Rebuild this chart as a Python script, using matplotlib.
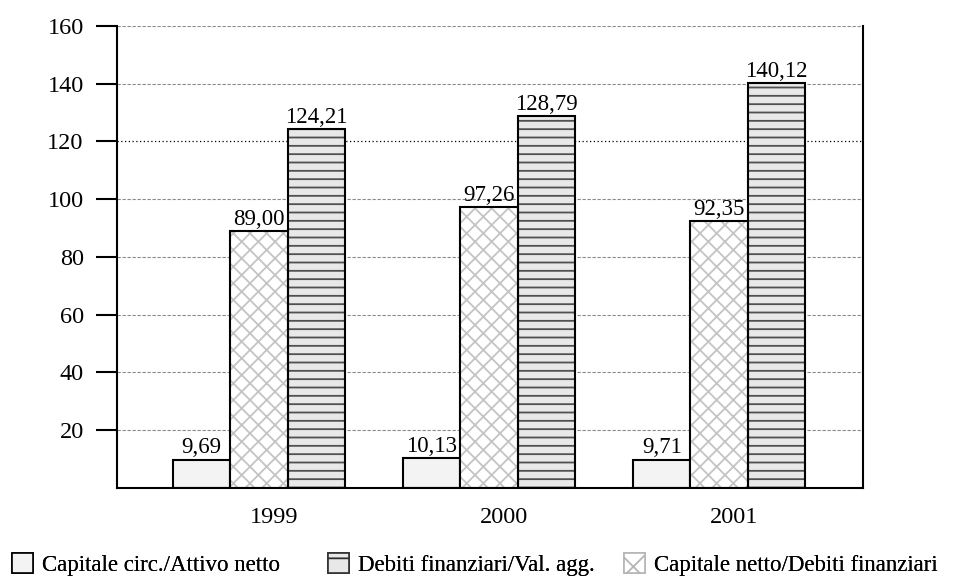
import matplotlib
matplotlib.use("Agg")
import matplotlib.pyplot as plt
from matplotlib.patches import Patch
import numpy as np

plt.rcParams['font.family'] = 'Liberation Serif'
plt.rcParams['hatch.linewidth'] = 1.3

anni = ['1999', '2000', '2001']
capitale_circ = [9.69, 10.13, 9.71]
capitale_netto = [89.00, 97.26, 92.35]
debiti_fin = [124.21, 128.79, 140.12]

fig = plt.figure(figsize=(9.56, 5.78), dpi=100)
ax = fig.add_axes([0.1224, 0.1562, 0.7803, 0.7988])

x = np.arange(len(anni))
w = 0.25

# griglia: tratteggiata, tranne la linea a 120 punteggiata
for yv in range(20, 161, 20):
    if yv == 120:
        ax.axhline(yv, color='black', lw=0.9, ls=(0, (1, 2)), zorder=0)
    else:
        ax.axhline(yv, color='#8a8a8a', lw=0.8, ls=(0, (3, 1.5)), zorder=0)

# serie 1: riempimento chiaro
ax.bar(x - 2 * w, capitale_circ, w, align='edge', color='#f3f3f3',
       edgecolor='black', linewidth=1.5, zorder=2)

# serie 2: retino incrociato grigio chiaro
ax.bar(x - w, capitale_netto, w, align='edge', color='white',
       edgecolor='#c4c4c4', hatch='xx', linewidth=0, zorder=2)
ax.bar(x - w, capitale_netto, w, align='edge', fill=False,
       edgecolor='black', linewidth=1.5, zorder=3)

# serie 3: righe orizzontali
ax.bar(x, debiti_fin, w, align='edge', color='#e8e8e8',
       edgecolor='#505050', hatch='--', linewidth=0, zorder=2)
ax.bar(x, debiti_fin, w, align='edge', fill=False,
       edgecolor='black', linewidth=1.5, zorder=3)

def etichetta(v):
    return f"{v:.2f}".replace('.', ',')

for off, serie in [(-1.5 * w, capitale_circ), (-0.5 * w, capitale_netto), (0.5 * w, debiti_fin)]:
    for xi, v in zip(x, serie):
        ax.annotate(etichetta(v), (xi + off, v), xytext=(0, 1),
                    textcoords='offset points', ha='center', va='bottom',
                    fontsize=16.5, zorder=4)

ax.set_xlim(-0.743, 2.5)
ax.set_ylim(0, 160)
ax.set_yticks(range(20, 161, 20))
ax.set_xticks(x - 0.06)
ax.set_xticklabels(anni)
ax.tick_params(axis='y', length=15, width=1.5, pad=9, labelsize=17.5)
ax.tick_params(axis='x', length=0, pad=14, labelsize=17.5)

ax.spines['top'].set_visible(False)
for s in ['left', 'right', 'bottom']:
    ax.spines[s].set_linewidth(1.5)

# legenda: tre voci in fondo alla figura
voci = [
    (Patch(facecolor='#f3f3f3', edgecolor='black', linewidth=1.2),
     'Capitale circ./Attivo netto', 0.0125),
    (Patch(facecolor='#e8e8e8', edgecolor='#303030', hatch='-', linewidth=1.2),
     'Debiti finanziari/Val. agg.', 0.343),
    (Patch(facecolor='white', edgecolor='#b5b5b5', hatch='x', linewidth=1.2),
     'Capitale netto/Debiti finanziari', 0.653),
]
for h, nome, xa in voci:
    leg = fig.legend([h], [nome], loc='center left', bbox_to_anchor=(xa, 0.023),
                     frameon=False, fontsize=16.5, handlelength=0.9,
                     handleheight=0.9, handletextpad=0.4, borderpad=0,
                     borderaxespad=0)
    fig.add_artist(leg)

fig.savefig('out.png', dpi=100)
